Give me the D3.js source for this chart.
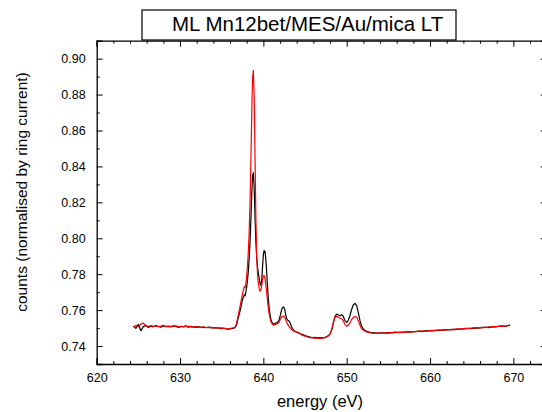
<!DOCTYPE html>
<html><head><meta charset="utf-8">
<script src="https://cdn.jsdelivr.net/npm/d3@7"></script>
<style>
body{margin:0;background:#fff}
svg{display:block}
text{font-family:Arial,"Liberation Sans",sans-serif}
</style>
</head><body>
<svg id="c" width="542" height="412"></svg>
<script>
// ---- data ----
const energy = [
624.4,624.7,625.0,625.3,625.6,625.9,626.2,626.5,626.8,627.1,
627.4,627.7,628.0,628.3,628.6,628.9,629.2,629.5,629.8,630.1,
630.4,630.7,631.0,631.3,631.6,631.9,632.2,632.5,632.8,633.1,
633.4,633.7,634.0,634.3,634.6,634.9,635.2,635.5,635.8,636.1,
636.4,
636.5,636.6,636.7,636.8,636.9,637.0,637.1,637.2,637.3,637.4,
637.5,637.6,637.7,637.8,637.9,638.0,638.1,638.2,638.3,638.4,
638.5,638.6,638.7,638.8,638.9,639.0,639.1,639.2,639.3,639.4,
639.5,639.6,639.7,639.8,639.9,640.0,640.1,640.2,640.3,640.4,
640.5,640.6,640.7,640.8,640.9,641.0,641.1,641.2,641.3,641.4,
641.5,641.6,641.7,641.8,641.9,642.0,642.1,642.2,642.3,642.4,
642.5,642.6,642.7,642.8,642.9,643.0,643.1,643.2,643.3,643.4,
643.5,643.6,643.7,643.8,643.9,644.0,
644.2,644.4,644.6,644.8,645.0,645.2,645.4,645.6,645.8,646.0,
646.2,646.4,646.6,646.8,647.0,647.2,647.4,647.6,647.8,648.0,
648.2,648.4,648.6,648.8,649.0,649.2,649.4,649.6,649.8,650.0,
650.2,650.4,650.6,650.8,651.0,651.2,651.4,651.6,651.8,652.0,
652.2,652.4,652.6,652.8,653.0,
653.4,653.8,654.2,654.6,655.0,655.4,655.8,656.2,656.6,657.0,
657.4,657.8,658.2,658.6,659.0,659.4,659.8,660.2,660.6,661.0,
661.4,661.8,662.2,662.6,663.0,663.4,663.8,664.2,664.6,665.0,
665.4,665.8,666.2,666.6,667.0,667.4,667.8,668.2,668.6,669.0,
669.4,669.6
];
const countsBlack = [
0.7512,0.7498,0.7521,0.7485,0.7508,0.7516,0.7503,0.7511,0.7507,0.7514,
0.7509,0.7505,0.7513,0.7508,0.7511,0.7506,0.7512,0.7509,0.7504,0.7510,
0.7507,0.7512,0.7505,0.7509,0.7506,0.7503,0.7508,0.7504,0.7506,0.7502,
0.7505,0.7501,0.7503,0.7499,0.7502,0.7497,0.7500,0.7496,0.7494,0.7497,
0.7499,
0.7500,0.7503,0.7510,0.7522,0.7540,0.7560,0.7578,0.7595,0.7615,0.7638,
0.7660,0.7672,0.7685,0.7680,0.7700,0.7730,0.7770,0.7820,0.7890,0.7980,
0.8100,0.8240,0.8345,0.8365,0.8280,0.8120,0.7980,0.7890,0.7840,0.7805,
0.7775,0.7750,0.7738,0.7765,0.7840,0.7910,0.7932,0.7925,0.7880,0.7810,
0.7730,0.7660,0.7610,0.7575,0.7550,0.7535,0.7527,0.7522,0.7523,0.7526,
0.7528,0.7530,0.7532,0.7537,0.7548,0.7565,0.7585,0.7603,0.7614,0.7618,
0.7612,0.7595,0.7570,0.7552,0.7545,0.7542,0.7538,0.7530,0.7518,0.7506,
0.7497,0.7490,0.7486,0.7483,0.7480,0.7478,
0.7475,0.7470,0.7466,0.7462,0.7458,0.7456,0.7452,0.7450,0.7449,0.7447,
0.7448,0.7446,0.7447,0.7445,0.7447,0.7446,0.7448,0.7452,0.7458,0.7468,
0.7490,0.7530,0.7565,0.7578,0.7573,0.7568,0.7575,0.7565,0.7540,0.7532,
0.7545,0.7570,0.7605,0.7630,0.7637,0.7625,0.7585,0.7540,0.7510,0.7495,
0.7487,0.7482,0.7479,0.7476,0.7474,
0.7473,0.7471,0.7474,0.7472,0.7475,0.7473,0.7477,0.7475,0.7478,0.7476,
0.7480,0.7478,0.7481,0.7483,0.7480,0.7484,0.7486,0.7484,0.7487,0.7489,
0.7487,0.7491,0.7490,0.7493,0.7491,0.7495,0.7494,0.7497,0.7499,0.7497,
0.7501,0.7500,0.7503,0.7505,0.7503,0.7507,0.7506,0.7509,0.7511,0.7510,
0.7514,0.7516
];
const countsRed = [
0.7505,0.7515,0.7508,0.7522,0.7528,0.7512,0.7509,0.7514,0.7510,0.7512,
0.7508,0.7511,0.7515,0.7509,0.7507,0.7511,0.7509,0.7513,0.7508,0.7506,
0.7510,0.7508,0.7511,0.7507,0.7505,0.7508,0.7506,0.7503,0.7507,0.7504,
0.7502,0.7505,0.7500,0.7503,0.7499,0.7501,0.7497,0.7499,0.7495,0.7498,
0.7502,
0.7502,0.7506,0.7514,0.7530,0.7552,0.7575,0.7598,0.7620,0.7645,0.7668,
0.7690,0.7712,0.7730,0.7725,0.7745,0.7790,0.7850,0.7930,0.8040,0.8200,
0.8420,0.8680,0.8890,0.8935,0.8780,0.8450,0.8120,0.7900,0.7800,0.7750,
0.7720,0.7705,0.7712,0.7735,0.7770,0.7790,0.7792,0.7775,0.7740,0.7695,
0.7650,0.7610,0.7578,0.7555,0.7538,0.7527,0.7520,0.7517,0.7518,0.7520,
0.7521,0.7523,0.7525,0.7528,0.7535,0.7545,0.7555,0.7562,0.7566,0.7567,
0.7564,0.7557,0.7545,0.7532,0.7522,0.7515,0.7508,0.7502,0.7497,0.7492,
0.7488,0.7485,0.7482,0.7480,0.7478,0.7476,
0.7473,0.7468,0.7462,0.7458,0.7455,0.7452,0.7449,0.7447,0.7445,0.7446,
0.7443,0.7445,0.7442,0.7444,0.7443,0.7445,0.7447,0.7450,0.7456,0.7466,
0.7490,0.7532,0.7560,0.7565,0.7560,0.7555,0.7552,0.7540,0.7518,0.7510,
0.7515,0.7530,0.7548,0.7560,0.7564,0.7560,0.7540,0.7515,0.7497,0.7488,
0.7482,0.7478,0.7476,0.7474,0.7472,
0.7470,0.7473,0.7471,0.7474,0.7472,0.7476,0.7474,0.7477,0.7475,0.7479,
0.7477,0.7480,0.7479,0.7482,0.7484,0.7482,0.7485,0.7487,0.7486,0.7488,
0.7490,0.7489,0.7492,0.7491,0.7494,0.7496,0.7495,0.7498,0.7497,0.7500,
0.7502,0.7501,0.7504,0.7503,0.7506,0.7508,0.7507,0.7510,0.7512,0.7511,
0.7515,0.7518
];
const xMajorTicks = [620,630,640,650,660,670];
const xMinorTicks = [622,624,626,628,632,634,636,638,642,644,646,648,652,654,656,658,662,664,666,668,672];
const yMajorTicks = [0.74,0.76,0.78,0.80,0.82,0.84,0.86,0.88,0.90];
const yMinorTicks = [0.73,0.75,0.77,0.79,0.81,0.83,0.85,0.87,0.89,0.91];
const titleText = "ML Mn12bet/MES/Au/mica LT";
const xLabel = "energy (eV)";
const yLabel = "counts (normalised by ring current)";

// ---- chart ----
const svg = d3.select("#c");
svg.append("rect").attr("width",542).attr("height",412).attr("fill","#fff");

const L = 96.7, R = 546.7, T = 40.7, B = 364;
const x = d3.scaleLinear().domain([620,674]).range([L,R]);
const y = d3.scaleLinear().domain([0.73,0.91]).range([B,T]);

const n = Math.min(energy.length, countsBlack.length, countsRed.length);
const blackData = d3.range(n).map(i => [energy[i], countsBlack[i]]);
const redData = d3.range(n).map(i => [energy[i], countsRed[i]]);

const line = d3.line().x(d => x(d[0])).y(d => y(d[1]));
svg.append("path").datum(blackData).attr("d", line)
  .attr("fill","none").attr("stroke","#000").attr("stroke-width",1.2).attr("stroke-linejoin","round");
svg.append("path").datum(redData).attr("d", line)
  .attr("fill","none").attr("stroke","#ff0000").attr("stroke-width",1.2).attr("stroke-linejoin","round");

function styleAxis(g){
  g.selectAll("path.domain").attr("stroke","#000").attr("stroke-width",1.3);
  g.selectAll(".tick line").attr("stroke","#000").attr("stroke-width",1);
  g.selectAll("text").attr("fill","#000").style("font-size","12.5px")
    .style("font-family","Arial, 'Liberation Sans', sans-serif");
}
// bottom
const gB = svg.append("g").attr("transform",`translate(0,${B})`)
  .call(d3.axisBottom(x).tickValues(xMajorTicks).tickSize(-6).tickPadding(9).tickFormat(d3.format("d")));
styleAxis(gB);
const gBm = svg.append("g").attr("transform",`translate(0,${B})`)
  .call(d3.axisBottom(x).tickValues(xMinorTicks).tickSize(-3).tickFormat(""));
styleAxis(gBm); gBm.select("path.domain").remove();
// top
const gT = svg.append("g").attr("transform",`translate(0,${T})`)
  .call(d3.axisTop(x).tickValues(xMajorTicks).tickSize(-6).tickFormat(""));
styleAxis(gT);
const gTm = svg.append("g").attr("transform",`translate(0,${T})`)
  .call(d3.axisTop(x).tickValues(xMinorTicks).tickSize(-3).tickFormat(""));
styleAxis(gTm); gTm.select("path.domain").remove();
// left
const gL = svg.append("g").attr("transform",`translate(${L},0)`)
  .call(d3.axisLeft(y).tickValues(yMajorTicks).tickSize(-6).tickPadding(11).tickFormat(d3.format(".2f")));
styleAxis(gL);
const gLm = svg.append("g").attr("transform",`translate(${L},0)`)
  .call(d3.axisLeft(y).tickValues(yMinorTicks).tickSize(-3).tickFormat(""));
styleAxis(gLm); gLm.select("path.domain").remove();
// right
const gR = svg.append("g").attr("transform",`translate(${R},0)`)
  .call(d3.axisRight(y).tickValues(yMajorTicks).tickSize(-6).tickFormat(""));
styleAxis(gR);
const gRm = svg.append("g").attr("transform",`translate(${R},0)`)
  .call(d3.axisRight(y).tickValues(yMinorTicks).tickSize(-3).tickFormat(""));
styleAxis(gRm); gRm.select("path.domain").remove();

// axis titles
svg.append("text").attr("x",320).attr("y",407).attr("text-anchor","middle")
  .style("font-size","16.5px").text(xLabel);
svg.append("text").attr("transform",`translate(27,192) rotate(-90)`)
  .attr("text-anchor","middle").style("font-size","15.5px").text(yLabel);

// title box
svg.append("rect").attr("x",142).attr("y",10).attr("width",314).attr("height",30)
  .attr("fill","#fff").attr("stroke","#000").attr("stroke-width",1.2);
svg.append("text").attr("x",172).attr("y",31).style("font-size","20.5px").text(titleText);
</script>
</body></html>
